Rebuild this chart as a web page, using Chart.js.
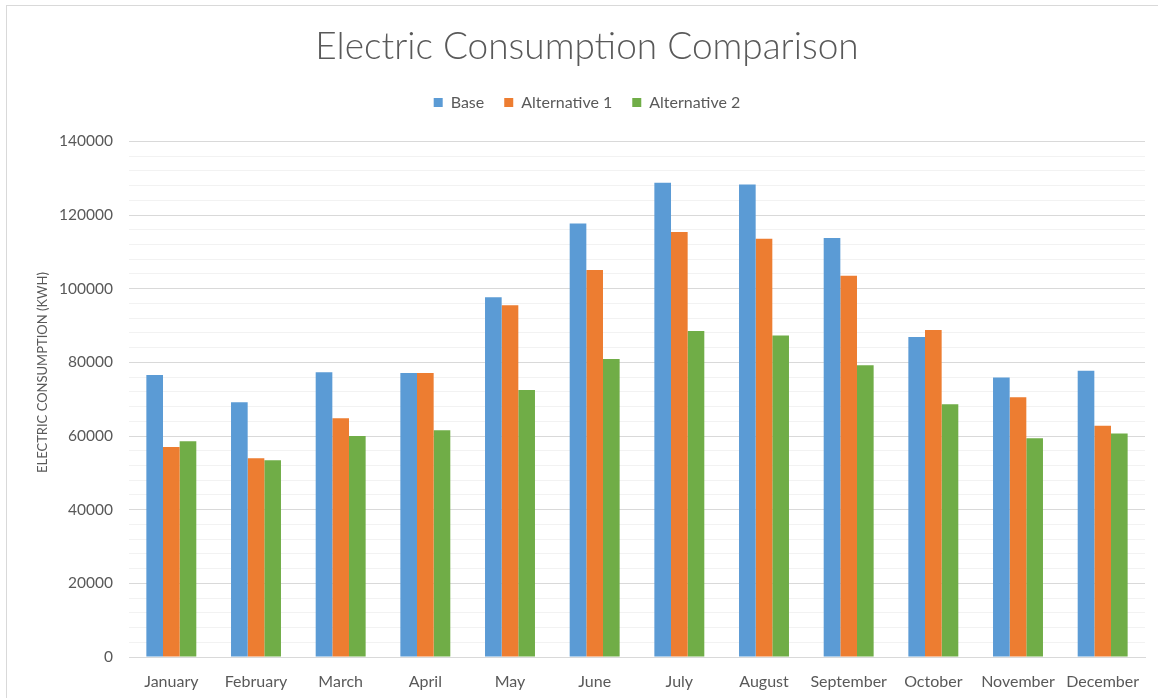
<!DOCTYPE html>
<html>
<head>
<meta charset="utf-8">
<script src="https://cdn.jsdelivr.net/npm/chart.js@4/dist/chart.umd.min.js"></script>
<style>
  html, body { margin: 0; padding: 0; background: #fff; }
  #frame { position: absolute; left: 6px; top: 5px; width: 1160px; height: 720px; border: 1px solid #d9d9d9; box-sizing: border-box; }
  #wrap { position: absolute; left: 0; top: 0; width: 1158px; height: 698px; }
</style>
</head>
<body>
<div id="frame"></div>
<div id="wrap"><canvas id="c" width="1158" height="698"></canvas></div>
<script>
const months = ["January","February","March","April","May","June","July","August","September","October","November","December"];
const baseValues = [76600, 69200, 77300, 77100, 97700, 117700, 128800, 128300, 113800, 86900, 75900, 77700];
const alt1Values = [57000, 54000, 64800, 77100, 95500, 105100, 115400, 113600, 103500, 88800, 70500, 62800];
const alt2Values = [58600, 53400, 60000, 61600, 72500, 80900, 88500, 87300, 79200, 68600, 59400, 60700];
const yTickLabels = [0, 20000, 40000, 60000, 80000, 100000, 120000, 140000];

const FONT = "Lato, 'Open Sans', sans-serif";
const TEXT = "#595959";

const legendSpacer = {
  id: "legendSpacer",
  beforeInit(chart) {
    const origFit = chart.legend.fit;
    chart.legend.fit = function () {
      origFit.bind(this)();
      this.height += 21;
    };
  }
};

new Chart(document.getElementById("c"), {
  type: "bar",
  data: {
    labels: months,
    datasets: [
      { label: "Base", data: baseValues, backgroundColor: "#5B9BD5" },
      { label: "Alternative 1", data: alt1Values, backgroundColor: "#ED7D31" },
      { label: "Alternative 2", data: alt2Values, backgroundColor: "#70AD47" }
    ]
  },
  plugins: [legendSpacer],
  options: {
    responsive: false,
    animation: false,
    devicePixelRatio: 1,
    layout: { padding: { left: 29, right: 13, top: 0, bottom: 0 } },
    datasets: { bar: { categoryPercentage: 0.59, barPercentage: 1.0 } },
    plugins: {
      title: {
        display: true,
        text: "Electric Consumption Comparison",
        color: TEXT,
        font: { family: FONT, size: 37, weight: "300" },
        padding: { top: 25, bottom: 5 }
      },
      legend: {
        display: true,
        position: "top",
        labels: {
          color: TEXT,
          font: { family: FONT, size: 16 },
          boxWidth: 9,
          boxHeight: 9,
          padding: 20
        }
      },
      tooltip: { enabled: false }
    },
    scales: {
      x: {
        afterFit: (scale) => { scale.height = 41; },
        grid: { display: false, drawTicks: false },
        border: { display: true, color: "#d9d9d9", width: 1 },
        ticks: { color: TEXT, font: { family: FONT, size: 16 }, padding: 15, maxRotation: 0, autoSkip: false }
      },
      y: {
        min: 0,
        max: 140000,
        afterFit: (scale) => { scale.width = 100; },
        border: { display: false },
        grid: {
          drawTicks: false,
          color: (ctx) => (ctx.tick && yTickLabels.includes(ctx.tick.value)) ? "#d9d9d9" : "#f2f2f2",
          lineWidth: 1
        },
        ticks: {
          stepSize: 4000,
          autoSkip: false,
          padding: 16,
          color: TEXT,
          font: { family: FONT, size: 15.5 },
          callback: (v) => yTickLabels.includes(v) ? String(v) : ""
        },
        title: {
          display: true,
          text: "\u00A0".repeat(16) + "ELECTRIC CONSUMPTION (KWH)",
          color: TEXT,
          font: { family: FONT, size: 13 },
          padding: { top: 6, bottom: 0 }
        }
      }
    }
  }
});
</script>
</body>
</html>
